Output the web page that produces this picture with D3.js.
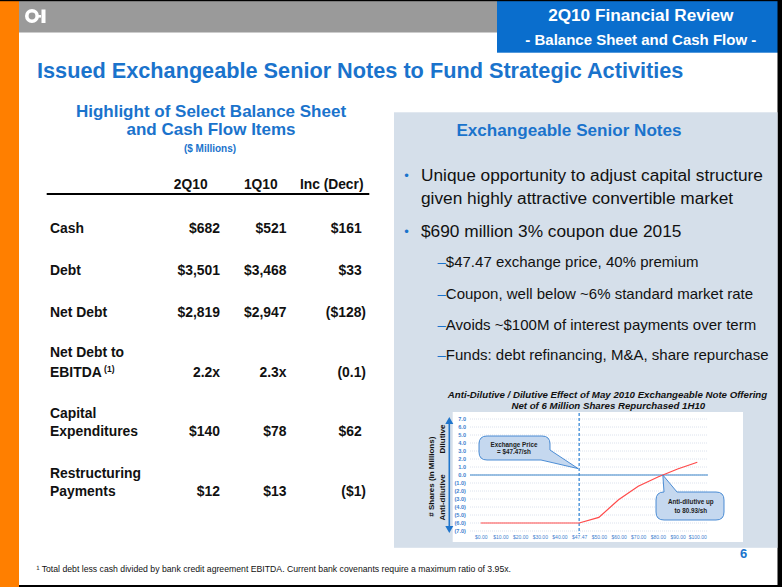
<!DOCTYPE html>
<html><head><meta charset="utf-8">
<script src="https://cdn.jsdelivr.net/npm/d3@7"></script>
<style>body{margin:0;background:#fff}svg{display:block;font-family:"Liberation Sans",Arial,sans-serif}</style>
</head><body><svg id="c" width="782" height="587"></svg>
<script>
// ---------- data ----------
const tableColumns = ["2Q10", "1Q10", "Inc (Decr)"];
const rowLabels = [["Cash"], ["Debt"], ["Net Debt"], ["Net Debt to", "EBITDA"], ["Capital", "Expenditures"], ["Restructuring", "Payments"]];
const values2Q10 = ["$682", "$3,501", "$2,819", "2.2x", "$140", "$12"];
const values1Q10 = ["$521", "$3,468", "$2,947", "2.3x", "$78", "$13"];
const valuesIncDecr = ["$161", "$33", "($128)", "(0.1)", "$62", "($1)"];
const bullets = [["Unique opportunity to adjust capital structure", "given highly attractive convertible market"], ["$690 million 3% coupon due 2015"]];
const subBullets = ["$47.47 exchange price, 40% premium", "Coupon, well below ~6% standard market rate", "Avoids ~$100M of interest payments over term", "Funds: debt refinancing, M&A, share repurchase"];
const priceLabels = ["$0.00", "$10.00", "$20.00", "$30.00", "$40.00", "$47.47", "$50.00", "$60.00", "$70.00", "$80.00", "$90.00", "$100.00"];
const shareChange = [-6.0, -6.0, -6.0, -6.0, -6.0, -6.0, -5.3, -3.1, -1.4, -0.25, 0.75, 1.6];
const yTicks = [7, 6, 5, 4, 3, 2, 1, 0, -1, -2, -3, -4, -5, -6, -7];

// ---------- drawing ----------
const svg = d3.select("#c");
const BLUE = "#1a73cc";
const F = '"Liberation Sans",Arial,sans-serif';

// frame
svg.append("rect").attr("x", 0).attr("y", 0).attr("width", 782).attr("height", 587).attr("fill", "#fff");
svg.append("rect").attr("x", 19).attr("y", 0).attr("width", 478).attr("height", 32.5).attr("fill", "#9a9a9a");
svg.append("rect").attr("x", 497).attr("y", 0).attr("width", 281).attr("height", 52.7).attr("fill", "#0a6ecd");
svg.append("rect").attr("x", 0).attr("y", 0).attr("width", 19).attr("height", 587).attr("fill", "#ff7f00");
svg.append("rect").attr("x", 0).attr("y", 0).attr("width", 782).attr("height", 1.2).attr("fill", "#000");
svg.append("rect").attr("x", 777.5).attr("y", 0).attr("width", 4.5).attr("height", 587).attr("fill", "#000");
svg.append("rect").attr("x", 19).attr("y", 585).attr("width", 763).attr("height", 2).attr("fill", "#000");

// logo
const logo = svg.append("g").attr("fill", "#fff");
logo.append("circle").attr("cx", 32).attr("cy", 16).attr("r", 5.2).attr("fill", "none").attr("stroke", "#fff").attr("stroke-width", 3.6);
logo.append("rect").attr("x", 37).attr("y", 15).attr("width", 4).attr("height", 2.6);
logo.append("rect").attr("x", 41.5).attr("y", 9.5).attr("width", 4).attr("height", 13.5);

// header text
svg.append("text").attr("x", 640.8).attr("y", 15).attr("dy", "0.35em").attr("text-anchor", "middle")
  .attr("fill", "#fff").attr("font-weight", "bold").attr("font-size", 17.2).text("2Q10 Financial Review");
svg.append("text").attr("x", 640.8).attr("y", 39.3).attr("dy", "0.35em").attr("text-anchor", "middle")
  .attr("fill", "#fff").attr("font-weight", "bold").attr("font-size", 15).text("- Balance Sheet and Cash Flow -");
svg.append("text").attr("x", 37).attr("y", 70).attr("dy", "0.35em")
  .attr("fill", BLUE).attr("font-weight", "bold").attr("font-size", 21.7).text("Issued Exchangeable Senior Notes to Fund Strategic Activities");

// ---------- table ----------
const tbl = svg.append("g").attr("font-weight", "bold");
tbl.append("text").attr("x", 211).attr("y", 111).attr("dy", "0.35em").attr("text-anchor", "middle")
  .attr("fill", BLUE).attr("font-size", 17).text("Highlight of Select Balance Sheet");
tbl.append("text").attr("x", 211).attr("y", 129).attr("dy", "0.35em").attr("text-anchor", "middle")
  .attr("fill", BLUE).attr("font-size", 17).text("and Cash Flow Items");
tbl.append("text").attr("x", 210).attr("y", 148.3).attr("dy", "0.35em").attr("text-anchor", "middle")
  .attr("fill", BLUE).attr("font-size", 10).text("($ Millions)");

const colCenters = [190.7, 260.8, 331.7];
tableColumns.forEach((c, i) => {
  tbl.append("text").attr("x", colCenters[i]).attr("y", 184.3).attr("dy", "0.35em").attr("text-anchor", "middle")
    .attr("fill", "#111").attr("font-size", 13.8).text(c);
});
tbl.append("line").attr("x1", 46.7).attr("x2", 369.3).attr("y1", 194).attr("y2", 194).attr("stroke", "#000").attr("stroke-width", 2);

const rowLineY = [[227.7], [270], [312.3], [351.7, 372.3], [412.7, 430.7], [472.7, 490.7]];
const valueCols = [values2Q10, values1Q10, valuesIncDecr];
const colRight = [220, 286.5, 361.7];
rowLabels.forEach((lines, r) => {
  lines.forEach((ln, k) => {
    const t = tbl.append("text").attr("x", 50).attr("y", rowLineY[r][k]).attr("dy", "0.35em")
      .attr("fill", "#111").attr("font-size", 13.9).text(ln);
    if (ln === "EBITDA") {
      t.append("tspan").attr("font-size", 8.5).attr("dy", "-0.55em").text(" (1)");
    }
  });
  const yv = rowLineY[r][rowLineY[r].length - 1];
  valueCols.forEach((col, c) => {
    const v = col[r];
    const paren = v.endsWith(")");
    tbl.append("text").attr("x", colRight[c] + (c === 2 && paren ? 4.3 : 0)).attr("y", yv).attr("dy", "0.35em")
      .attr("text-anchor", "end").attr("fill", "#111").attr("font-size", 13.9).text(v);
  });
});

svg.append("text").attr("x", 36.5).attr("y", 569.3).attr("dy", "0.35em").attr("fill", "#111").attr("font-size", 8.7)
  .text("¹ Total debt less cash divided by bank credit agreement EBITDA.  Current bank covenants require a maximum ratio of 3.95x.");

// ---------- right panel ----------
svg.append("rect").attr("x", 394).attr("y", 112.3).attr("width", 383.5).attr("height", 435.5).attr("fill", "#d5dfea");
svg.append("text").attr("x", 569).attr("y", 130).attr("dy", "0.35em").attr("text-anchor", "middle")
  .attr("fill", BLUE).attr("font-weight", "bold").attr("font-size", 17.1).text("Exchangeable Senior Notes");

const bulletY = [[175, 198.3], [231]];
bullets.forEach((b, i) => {
  svg.append("text").attr("x", 406.5).attr("y", bulletY[i][0]).attr("dy", "0.35em").attr("text-anchor", "middle")
    .attr("fill", BLUE).attr("font-size", 13).text("•");
  b.forEach((ln, k) => {
    svg.append("text").attr("x", 421).attr("y", bulletY[i][k]).attr("dy", "0.35em")
      .attr("fill", "#111").attr("font-size", 17.3).text(ln);
  });
});
const subY = [261.7, 293.3, 324.3, 355];
subBullets.forEach((s, i) => {
  const t = svg.append("text").attr("x", 437.5).attr("y", subY[i]).attr("dy", "0.35em").attr("font-size", 15);
  t.append("tspan").attr("fill", BLUE).text("–");
  t.append("tspan").attr("fill", "#111").text(s);
});

// ---------- small chart ----------
const ch = svg.append("g");
ch.append("text").attr("x", 607.5).attr("y", 395).attr("dy", "0.35em").attr("text-anchor", "middle")
  .attr("font-weight", "bold").attr("font-style", "italic").attr("font-size", 9.7).attr("fill", "#111")
  .text("Anti-Dilutive / Dilutive Effect of May 2010 Exchangeable Note Offering");
ch.append("text").attr("x", 608.3).attr("y", 405.5).attr("dy", "0.35em").attr("text-anchor", "middle")
  .attr("font-weight", "bold").attr("font-style", "italic").attr("font-size", 9.7).attr("fill", "#111")
  .text("Net of 6 Million Shares Repurchased 1H10");

ch.append("rect").attr("x", 452.7).attr("y", 412).attr("width", 290.3).attr("height", 130).attr("fill", "#fff");

const x = d3.scalePoint().domain(priceLabels).range([480.7, 697.3]);
const y = d3.scaleLinear().domain([-7, 7]).range([531, 419]);

// grid
ch.append("g").selectAll("line").data(yTicks).join("line")
  .attr("x1", 470).attr("x2", 708).attr("y1", d => y(d)).attr("y2", d => y(d))
  .attr("stroke", "#d3dbe8").attr("stroke-width", 0.8).attr("stroke-dasharray", "1,1");

const fmt = d => d < 0 ? "(" + Math.abs(d).toFixed(1) + ")" : d.toFixed(1);
const yAxis = ch.append("g").attr("transform", "translate(466,0)")
  .call(d3.axisLeft(y).tickValues(yTicks).tickFormat(fmt).tickSize(0).tickPadding(0));
yAxis.select(".domain").remove();
yAxis.selectAll("text").attr("fill", "#3f7fcf").attr("font-size", 5.6).attr("font-weight", "bold").attr("font-family", F);

const xAxis = ch.append("g").attr("transform", "translate(0,537)")
  .call(d3.axisBottom(x).tickSize(0).tickPadding(0));
xAxis.select(".domain").remove();
xAxis.selectAll("text").attr("y", 0).attr("dy", "0.35em").attr("fill", "#3f7fcf").attr("font-size", 5).attr("font-family", F);

// zero line
ch.append("line").attr("x1", 470).attr("x2", 708).attr("y1", y(0)).attr("y2", y(0)).attr("stroke", "#3d85c9").attr("stroke-width", 1.2);
// exchange price dashed line
ch.append("line").attr("x1", x("$47.47")).attr("x2", x("$47.47")).attr("y1", 413).attr("y2", 534)
  .attr("stroke", "#3b8ad8").attr("stroke-width", 1.3).attr("stroke-dasharray", "3,2");
// series line
ch.append("path").datum(priceLabels.map((p, i) => [p, shareChange[i]]))
  .attr("fill", "none").attr("stroke", "#ff4a4a").attr("stroke-width", 1.2)
  .attr("d", d3.line().x(d => x(d[0])).y(d => y(d[1])));

// double arrow
const ax = 449.3;
ch.append("line").attr("x1", ax).attr("x2", ax).attr("y1", 423).attr("y2", 527).attr("stroke", "#1f75cc").attr("stroke-width", 1.6);
ch.append("path").attr("d", `M${ax},417 L${ax - 4},424 L${ax + 4},424 Z`).attr("fill", "#1f75cc");
ch.append("path").attr("d", `M${ax},533 L${ax - 4},526 L${ax + 4},526 Z`).attr("fill", "#1f75cc");

const rotText = (tx, ty, s, size) => ch.append("text").attr("transform", `translate(${tx},${ty}) rotate(-90)`)
  .attr("text-anchor", "middle").attr("dy", "0.35em").attr("font-weight", "bold").attr("font-size", size).attr("fill", "#111").text(s);
rotText(431.5, 476.7, "# Shares (in Millions)", 8);
rotText(441.7, 439, "Dilutive", 8);
rotText(441.7, 497.5, "Anti-dilutive", 8);

// callouts
function callout(x0, y0, x1, y1, r, pathMid) {
  return ch.append("path").attr("d", pathMid(x0, y0, x1, y1, r)).attr("fill", "#c5d8ef").attr("stroke", "#3b82d0").attr("stroke-width", 0.9);
}
const tip1 = [x("$47.47") - 1, y(0.8)];
callout(479, 436, 550, 460, 8, (x0, y0, x1, y1, r) =>
  `M${x0 + r},${y0} H${x1 - r} Q${x1},${y0} ${x1},${y0 + r} V${y1 - 10} L${tip1[0]},${tip1[1]} L${x1 - 9},${y1} H${x0 + r} Q${x0},${y1} ${x0},${y1 - r} V${y0 + r} Q${x0},${y0} ${x0 + r},${y0} Z`);
const tip2 = [x("$80.00") + 0.25 * (x("$90.00") - x("$80.00")), y(0)];
callout(656, 492, 724, 520, 8, (x0, y0, x1, y1, r) =>
  `M${x0 + r},${y0} H${x0 + 8} L${tip2[0]},${tip2[1]} L${x0 + 21},${y0} H${x1 - r} Q${x1},${y0} ${x1},${y0 + r} V${y1 - r} Q${x1},${y1} ${x1 - r},${y1} H${x0 + r} Q${x0},${y1} ${x0},${y1 - r} V${y0 + r} Q${x0},${y0} ${x0 + r},${y0} Z`);

const ctext = (tx, ty, s) => ch.append("text").attr("x", tx).attr("y", ty).attr("dy", "0.35em").attr("text-anchor", "middle")
  .attr("font-weight", "bold").attr("font-size", 6.3).attr("fill", "#222").text(s);
ctext(514, 444.3, "Exchange Price");
ctext(514, 452, "= $47.47/sh");
ctext(690.8, 501.7, "Anti-dilutive up");
ctext(690.8, 510.7, "to 80.93/sh");

// page number
svg.append("text").attr("x", 743.7).attr("y", 553.3).attr("dy", "0.35em").attr("text-anchor", "middle")
  .attr("fill", BLUE).attr("font-weight", "bold").attr("font-size", 13).text("6");
</script></body></html>
